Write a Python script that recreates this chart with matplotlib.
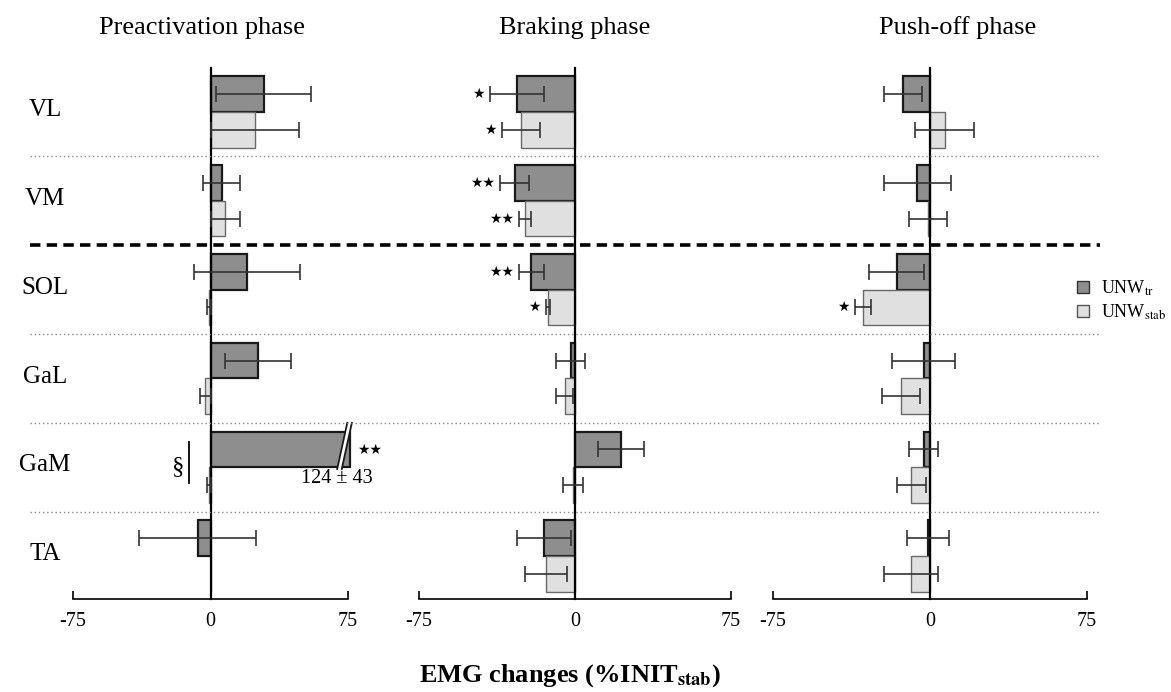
import matplotlib
matplotlib.use("Agg")
import matplotlib.pyplot as plt
from matplotlib.lines import Line2D
from matplotlib.patches import Polygon
from matplotlib.transforms import blended_transform_factory

plt.rcParams['font.family'] = ['Liberation Serif', 'DejaVu Serif']
plt.rcParams['mathtext.fontset'] = 'stix'
plt.rcParams['lines.scale_dashes'] = False

muscles = ["VL", "VM", "SOL", "GaL", "GaM", "TA"]
phases = ["Preactivation phase", "Braking phase", "Push-off phase"]

# mean / sd per phase, rows in muscle order
tr_mean = [[29, 6, 20, 26, 124, -7],
           [-28, -29, -21, -2, 22, -15],
           [-13, -6, -16, -3, -3, -1]]
tr_sd = [[26, 10, 29, 18, 43, 32],
         [13, 7, 6, 7, 11, 13],
         [9, 16, 13, 15, 7, 10]]
stab_mean = [[24, 8, -1, -3, -1, 0],
             [-26, -24, -13, -5, -1, -14],
             [7, -1, -32, -14, -9, -9]]
stab_sd = [[24, 8, 1, 3, 1, 0],
           [9, 3, 1, 4, 5, 10],
           [14, 9, 4, 9, 7, 13]]
tr_sig = [["", "", "", "", "★★", ""],
          ["★", "★★", "★★", "", "", ""],
          ["", "", "", "", "", ""]]
stab_sig = [["", "", "", "", "", ""],
            ["★", "★★", "★", "", "", ""],
            ["", "", "★", "", "", ""]]

dark = "#8e8e8e"
light = "#e0e0e0"
W, H = 1171, 692
fig = plt.figure(figsize=(W / 100, H / 100), dpi=100)

# axes boxes in pixels (left, right)
boxes = [(73, 348), (419, 731), (773, 1087)]
title_x = [0.469, 0.5, 0.589]
top_px, bot_px = 67.6, 599
axes = []
for (l, r) in boxes:
    ax = fig.add_axes([l / W, (H - bot_px) / H, (r - l) / W, (bot_px - top_px) / H])
    axes.append(ax)

rows = list(range(len(muscles)))
clip_max = 76  # preactivation axis ends a bit past 75

for k, ax in enumerate(axes):
    tm = [min(v, clip_max) for v in tr_mean[k]]
    ax.barh([r - 0.2 for r in rows], tm, height=0.4, color=dark,
            edgecolor="#1a1a1a", linewidth=1.6, zorder=2, clip_on=False)
    ax.barh([r + 0.2 for r in rows], stab_mean[k], height=0.4, color=light,
            edgecolor="#6a6a6a", linewidth=1.0, zorder=2)
    for i in rows:
        if tr_mean[k][i] <= clip_max:
            ax.errorbar(tr_mean[k][i], i - 0.2, xerr=tr_sd[k][i], fmt="none",
                        ecolor="#333333", elinewidth=1.2, capsize=5.5,
                        capthick=1.2, zorder=3)
        if stab_sd[k][i] > 0:
            ax.errorbar(stab_mean[k][i], i + 0.2, xerr=stab_sd[k][i], fmt="none",
                        ecolor="#333333", elinewidth=1.2, capsize=5.5,
                        capthick=1.2, zorder=3)
        for sig, m, s, off in ((tr_sig[k][i], tr_mean[k][i], tr_sd[k][i], -0.2),
                               (stab_sig[k][i], stab_mean[k][i], stab_sd[k][i], 0.2)):
            if sig and m <= clip_max:
                ax.text(m - s - 2.5, i + off, sig, ha="right", va="center",
                        fontsize=10, family="DejaVu Sans", color="black")
    ax.set_xlim(-75, 75)
    ax.set_ylim(5.484, -0.5)
    ax.spines["top"].set_visible(False)
    ax.spines["right"].set_visible(False)
    ax.spines["left"].set_position(("data", 0))
    ax.spines["left"].set_linewidth(1.6)
    ax.spines["bottom"].set_linewidth(1.2)
    ax.set_yticks([])
    ax.set_xticks([-75, 0, 75])
    ax.set_xticklabels(["-75", "0", "75"], fontsize=14.5)
    ax.tick_params(axis="x", direction="in", length=6, width=1.2, pad=9)
    ax.patch.set_visible(False)
    ax.set_title(phases[k], fontsize=19, pad=24, x=title_x[k])

# broken GaM bar in preactivation panel
ax = axes[0]
gi = muscles.index("GaM")
brk = Polygon([(69.1, gi + 0.02), (74.6, gi - 0.5), (77.1, gi - 0.5), (71.6, gi + 0.02)],
              closed=True, facecolor="white", edgecolor="none", zorder=4, clip_on=False)
ax.add_patch(brk)
ax.plot([69.1, 74.6], [gi + 0.02, gi - 0.5], color="#1a1a1a", lw=1.3, zorder=5, clip_on=False)
ax.plot([71.6, 77.1], [gi + 0.02, gi - 0.5], color="#1a1a1a", lw=1.3, zorder=5, clip_on=False)
ax.text(69, gi + 0.13, f"{tr_mean[0][gi]} ± {tr_sd[0][gi]}", ha="center", va="center",
        fontsize=14.5)
ax.text(80, gi - 0.19, tr_sig[0][gi], ha="left", va="center", fontsize=10,
        family="DejaVu Sans")
ax.text(-17.5, gi, "§", ha="center", va="center", fontsize=18)
ax.plot([-12, -12], [gi - 0.28, gi + 0.18], color="black", lw=1.3, clip_on=False)

# row labels and separators spanning the figure
tr = blended_transform_factory(fig.transFigure, axes[0].transData)
for i, m in enumerate(muscles):
    fig.text(45 / W, 0, m, transform=tr, fontsize=18, ha="center", va="center")
    fig.texts[-1].set_y(i - 0.02)
for i in range(len(muscles) - 1):
    y = i + 0.5
    if muscles[i + 1] == "SOL":
        fig.add_artist(Line2D([30 / W, 1100 / W], [y, y], transform=tr, color="black",
                              lw=2.6, linestyle=(0, (7.5, 4.5))))
    else:
        fig.add_artist(Line2D([30 / W, 1100 / W], [y, y], transform=tr, color="#8a8a8a",
                              lw=1.0, linestyle=(0, (1, 2))))

handles = [Line2D([], [], marker="s", ls="none", markersize=9, markerfacecolor=dark,
                  markeredgecolor="#333333"),
           Line2D([], [], marker="s", ls="none", markersize=9, markerfacecolor=light,
                  markeredgecolor="#555555")]
fig.legend(handles, [r"UNW$_{\rm tr}$", r"UNW$_{\rm stab}$"], loc="center left",
           bbox_to_anchor=(1058 / W, 1 - 300 / H), frameon=False, fontsize=13,
           handlelength=1.0, handletextpad=0.5, labelspacing=0.25)

fig.text(570 / W, 1 - 676 / H, r"EMG changes (%INIT$_{\mathbf{stab}}$)", ha="center",
         va="center", fontsize=19, fontweight="bold")

fig.savefig("out.png", dpi=100)
